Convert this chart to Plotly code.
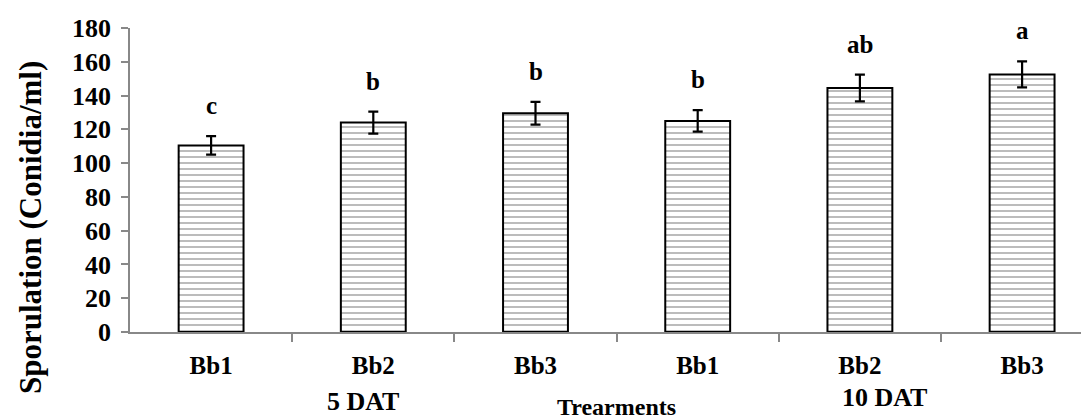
import plotly.graph_objects as go

labels = ["Bb1", "Bb2", "Bb3", "Bb1", "Bb2", "Bb3"]
values = [110.5, 124, 129.5, 125, 144.5, 152.5]
errors = [5.5, 6.5, 6.7, 6.4, 7.9, 7.7]
letters = ["c", "b", "b", "b", "ab", "a"]
groups = ["5 DAT", "10 DAT"]
y_ticks = [0, 20, 40, 60, 80, 100, 120, 140, 160, 180]

FONT = "Liberation Serif"
W, H = 1089, 419
ml, mr, mt, mb = 122, 0, 20, 95
pw = W - ml - mr
ph = H - mt - mb
xs = list(range(len(labels)))
x_end = -0.5 + pw / 162.2

fig = go.Figure()
fig.add_trace(go.Bar(
    x=xs, y=values, width=0.40,
    marker=dict(color="white",
                line=dict(color="black", width=2),
                pattern=dict(shape="-", size=6, solidity=0.22,
                             fgcolor="#333333", bgcolor="white")),
    error_y=dict(type="data", array=errors, visible=True,
                 color="black", thickness=2.2, width=5),
    showlegend=False,
))

annotations = []
for x, v, e, t in zip(xs, values, errors, letters):
    annotations.append(dict(x=x, y=v + e, xref="x", yref="y", text=f"<b>{t}</b>",
                            showarrow=False, yanchor="bottom", yshift=15,
                            font=dict(family=FONT, size=25, color="black")))

def px_to_paper_x(px):
    return (px - ml) / pw

def px_to_paper_y(py):
    return (H - mb - py) / ph

annotations.append(dict(x=px_to_paper_x(22), y=px_to_paper_y(220), xref="paper", yref="paper",
                        text="<b>Sporulation (Conidia/ml)</b>", textangle=-90, showarrow=False,
                        xanchor="center", yanchor="middle",
                        font=dict(family=FONT, size=31, color="black")))
annotations.append(dict(x=px_to_paper_x(608), y=px_to_paper_y(399), xref="paper", yref="paper",
                        text="<b>Trearments</b>", showarrow=False,
                        xanchor="center", yanchor="middle",
                        font=dict(family=FONT, size=24, color="black")))
annotations.append(dict(x=px_to_paper_x(355), y=px_to_paper_y(394), xref="paper", yref="paper",
                        text=f"<b>{groups[0]}</b>", showarrow=False,
                        xanchor="center", yanchor="middle",
                        font=dict(family=FONT, size=26, color="black")))
annotations.append(dict(x=px_to_paper_x(876), y=px_to_paper_y(389), xref="paper", yref="paper",
                        text=f"<b>{groups[1]}</b>", showarrow=False,
                        xanchor="center", yanchor="middle",
                        font=dict(family=FONT, size=26, color="black")))

fig.update_layout(
    width=W, height=H,
    margin=dict(l=ml, r=mr, t=mt, b=mb, autoexpand=False),
    paper_bgcolor="white", plot_bgcolor="white",
    annotations=annotations,
    xaxis=dict(
        range=[-0.5, x_end], tickmode="array", tickvals=xs,
        ticktext=[f"<b>{l}</b>" for l in labels],
        ticks="", showgrid=False, zeroline=False,
        showline=True, linecolor="#888888", linewidth=1.5,
        tickfont=dict(family=FONT, size=25, color="black"),
        ticklabelstandoff=10,
        minor=dict(tickmode="array", tickvals=[0.5, 1.5, 2.5, 3.5, 4.5],
                   ticks="outside", ticklen=8, tickcolor="#888888", tickwidth=1.5,
                   showgrid=False),
    ),
    yaxis=dict(
        range=[0, 180], tickmode="array", tickvals=y_ticks,
        ticktext=[f"<b>{v}</b>" for v in y_ticks],
        ticks="outside", ticklen=7, tickcolor="#888888", tickwidth=1.5,
        showgrid=False, zeroline=False,
        showline=True, linecolor="#888888", linewidth=1.5,
        tickfont=dict(family=FONT, size=26, color="black"),
        ticklabelstandoff=5,
    ),
)

fig.write_html("out.html")
